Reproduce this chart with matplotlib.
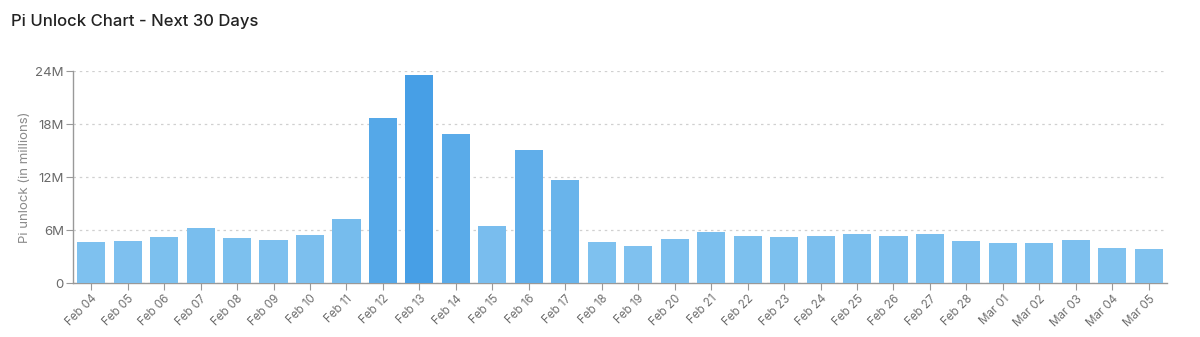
import matplotlib
matplotlib.use("Agg")
import matplotlib.pyplot as plt
import numpy as np
from matplotlib.colors import LinearSegmentedColormap, Normalize

plt.rcParams['font.family'] = ['Inter', 'DejaVu Sans']

days = ["Feb 04", "Feb 05", "Feb 06", "Feb 07", "Feb 08", "Feb 09", "Feb 10",
        "Feb 11", "Feb 12", "Feb 13", "Feb 14", "Feb 15", "Feb 16", "Feb 17",
        "Feb 18", "Feb 19", "Feb 20", "Feb 21", "Feb 22", "Feb 23", "Feb 24",
        "Feb 25", "Feb 26", "Feb 27", "Feb 28", "Mar 01", "Mar 02", "Mar 03",
        "Mar 04", "Mar 05"]
unlock_m = [4.64, 4.75, 5.2, 6.2, 5.1, 4.87, 5.4, 7.25, 18.7, 23.55,
            16.9, 6.45, 15.06, 11.66, 4.6, 4.2, 4.98, 5.77, 5.28, 5.17,
            5.32, 5.55, 5.32, 5.58, 4.76, 4.49, 4.52, 4.87, 4.0, 3.85]
yticks = [0, 6, 12, 18, 24]
ytick_labels = ["0", "6M", "12M", "18M", "24M"]

cmap = LinearSegmentedColormap.from_list("pi", ["#80C2EF", "#479FE6"])
norm = Normalize(vmin=min(unlock_m), vmax=max(unlock_m))
colors = [cmap(norm(v)) for v in unlock_m]

fig = plt.figure(figsize=(12, 3.37), dpi=100)
ax = fig.add_axes([0.0608, 0.160, 0.9117, 0.629])

x = np.arange(len(days))
ax.bar(x, unlock_m, width=0.77, color=colors, zorder=3)

ax.set_xlim(-0.5, len(days) - 0.5)
ax.set_ylim(0, 24)
ax.set_yticks(yticks)
ax.set_yticklabels(ytick_labels)
ax.set_xticks(x)
ax.set_xticklabels(days, rotation=45, ha="right", rotation_mode="anchor")

ax.grid(axis="y", linestyle=(0, (2, 3)), color="#d0d0d0", linewidth=0.9, zorder=0)
for s in ["top", "right"]:
    ax.spines[s].set_visible(False)
for s in ["left", "bottom"]:
    ax.spines[s].set_color("#999999")
    ax.spines[s].set_linewidth(1.0)

ax.tick_params(axis="y", colors="#999999", labelcolor="#6a6a6a", labelsize=9.5,
               length=5, pad=1.5)
ax.tick_params(axis="x", colors="#999999", labelcolor="#707070", labelsize=8.3,
               length=5, pad=2)

ax.set_ylabel("Pi unlock (in millions)", color="#8a8a8a", fontsize=9.5)
ax.yaxis.set_label_coords(-0.0384, 0.5)

fig.text(0.009, 0.935, "Pi Unlock Chart - Next 30 Days", fontsize=12,
         color="#222222", fontweight="medium", va="center")

fig.savefig("out.png", dpi=100)
